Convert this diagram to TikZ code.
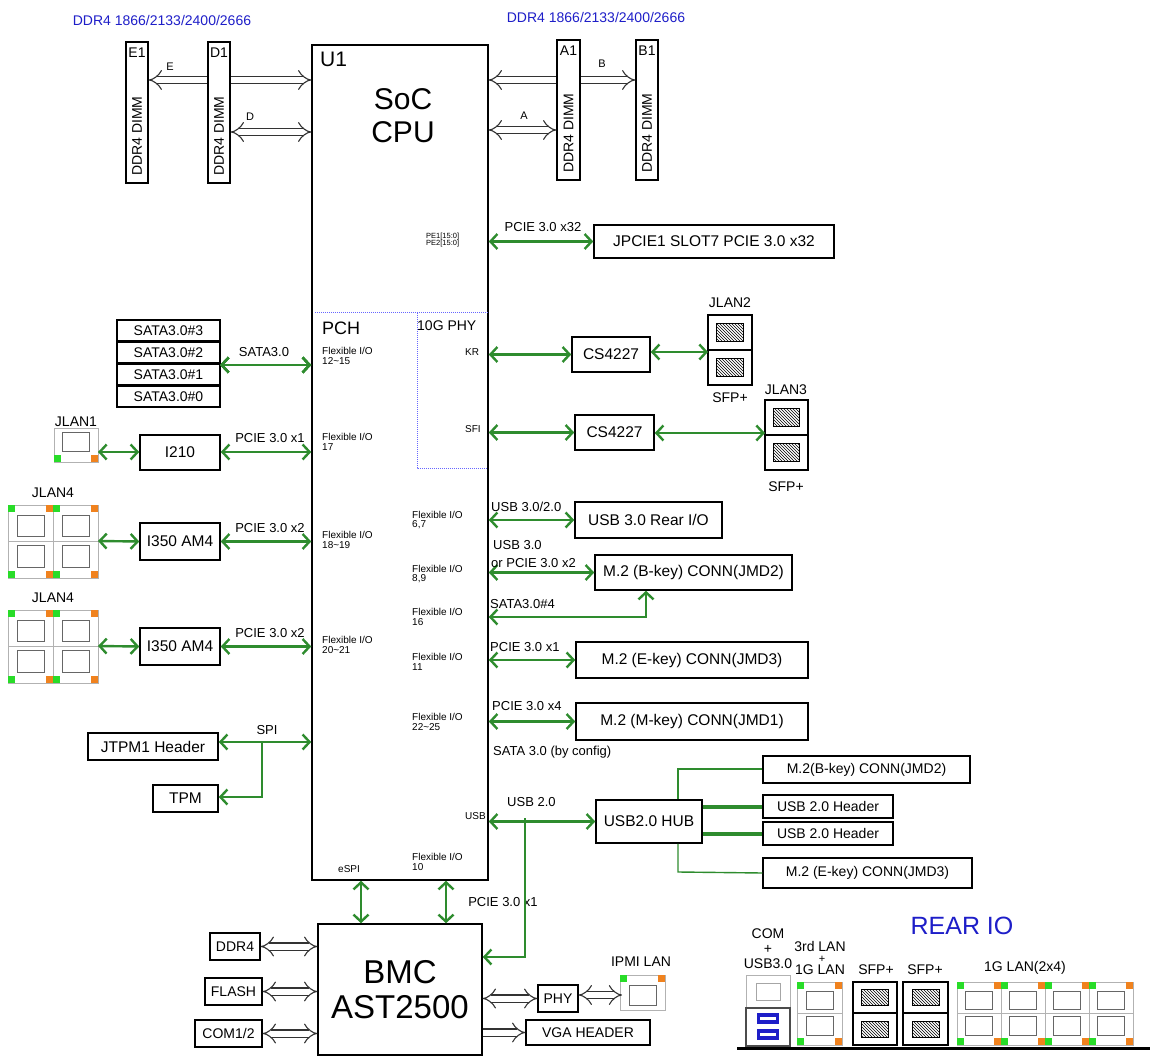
\documentclass[tikz,border=0pt]{standalone}
\usepackage{fontspec}
\setmainfont{Liberation Sans}
\usetikzlibrary{arrows.meta,patterns}
\definecolor{gr}{RGB}{46,140,46}
\definecolor{bl}{RGB}{30,30,200}
\definecolor{og}{RGB}{240,130,30}
\definecolor{lg}{RGB}{40,220,40}
\newcommand\bx[7][]{\node[box,#1,minimum width={((#4)-(#2))*1pt},minimum height={((#5)-(#3))*1pt}] (#6) at ({((#2)+(#4))/2},{((#3)+(#5))/2}) {#7};}
\newcommand\lport[5]{%
 \draw[gray!60,line width=1pt] ({#1},{#2}) rectangle ({#3},{#4});
 \ifx t#5
 \draw[gray!80!black,line width=0.8pt] ({(#1)+0.2*((#3)-(#1))},{(#2)+0.3*((#4)-(#2))}) rectangle ({(#3)-0.2*((#3)-(#1))},{(#4)-0.12*((#4)-(#2))});
 \fill[lg] ({#1},{#2}) rectangle ++(7,7); \fill[og] ({#3},{#2}) rectangle ++(-7,7);
 \else
 \draw[gray!80!black,line width=0.8pt] ({(#1)+0.2*((#3)-(#1))},{(#2)+0.12*((#4)-(#2))}) rectangle ({(#3)-0.2*((#3)-(#1))},{(#4)-0.3*((#4)-(#2))});
 \fill[lg] ({#1},{#4}) rectangle ++(7,-7); \fill[og] ({#3},{#4}) rectangle ++(-7,-7);
 \fi}
\newcommand\sfp[4]{\draw[line width=1.3pt] (#1,#2) rectangle (#3,#4);
 \draw[line width=1pt,pattern=north west lines] ({(#1)+0.2*((#3)-(#1))},{(#2)+0.25*((#4)-(#2))}) rectangle ({(#3)-0.2*((#3)-(#1))},{(#4)-0.25*((#4)-(#2))});}
\begin{document}
\begin{tikzpicture}[x=1pt,y=-1pt,
 box/.style={draw,line width=1.5pt,inner sep=0pt,font=\fontsize{15.5}{17}\selectfont},
 sb/.style={font=\fontsize{14}{16}\selectfont},
 lab/.style={font=\fontsize{13}{15}\selectfont,inner sep=0pt},
 tiny/.style={font=\fontsize{10}{9.5}\selectfont,align=left,inner sep=0pt,anchor=west},
 garr/.style={draw=gr,line width=2.4pt,{Straight Barb[length=7pt,width=15pt]}-{Straight Barb[length=7pt,width=15pt]}},
 gln/.style={draw=gr,line width=2.4pt},
 dbl/.style={draw=black!80,line width=1.1pt,double distance=6pt,{Implies}-{Implies}},
 dblr/.style={draw=black!80,line width=1.1pt,double distance=6pt,-{Implies}},
 dbll/.style={draw=black!80,line width=1.1pt,double distance=6pt,{Implies}-}]
\useasboundingbox (0,0) rectangle (1162,1059);
% CPU
\bx{312}{45}{488}{880}{U1}{}
\node[lab,font=\fontsize{21}{21}\selectfont,anchor=north west] at (320,52) {U1};
\node[lab,font=\fontsize{30}{33}\selectfont,align=center] at (403,116) {SoC\\CPU};
\draw[blue!60,densely dotted,line width=1pt] (315,313) -- (488,313) (417,313) -- (417,468) -- (488,468);
\node[lab,font=\fontsize{18}{18}\selectfont,anchor=west] at (322,328) {PCH};
\node[lab,font=\fontsize{14}{14}\selectfont,anchor=west] at (417,326) {10G PHY};
\node[tiny] at (465,352) {KR};
\node[tiny] at (465,429) {SFI};
\node[tiny,font=\fontsize{7.5}{7.5}\selectfont] at (426,240) {PE1[15:0]\\PE2[15:0]};
% DIMMs
\node[lab,text=bl,font=\fontsize{14}{14}\selectfont] at (162,20) {DDR4 1866/2133/2400/2666};
\node[lab,text=bl,font=\fontsize{14}{14}\selectfont] at (596,18) {DDR4 1866/2133/2400/2666};
\foreach \n/\xa/\xb/\ya/\yb in {E1/126/148/42/183,D1/208/230/42/183,A1/557/580/40/180,B1/636/658/40/180}{
 \bx{\xa}{\ya}{\xb}{\yb}{\n}{}
 \node[lab,font=\fontsize{14}{14}\selectfont,anchor=north] at ({(\xa+\xb)/2},{\ya+6}) {\n};
 \node[lab,font=\fontsize{14}{14}\selectfont,rotate=90,anchor=west] at ({(\xa+\xb)/2},{\yb-7}) {DDR4 DIMM};}
\draw[dbll] (E1.east |- 0,80) -- (D1.west |- 0,80);
\node[lab,font=\fontsize{11}{11}\selectfont] at (170,67) {E};
\draw[dblr] (D1.east |- 0,80) -- (U1.west |- 0,80);
\draw[dbl] (D1.east |- 0,132) -- (U1.west |- 0,132);
\node[lab,font=\fontsize{11}{11}\selectfont] at (250,117) {D};
\draw[dbll] (U1.east |- 0,80) -- (A1.west |- 0,80);
\draw[dbl] (U1.east |- 0,130) -- (A1.west |- 0,130);
\node[lab,font=\fontsize{11}{11}\selectfont] at (524,116) {A};
\draw[dblr] (A1.east |- 0,80) -- (B1.west |- 0,80);
\node[lab,font=\fontsize{11}{11}\selectfont] at (602,64) {B};
% PCIE slot
\bx{594}{225}{834}{258}{slot}{JPCIE1 SLOT7 PCIE 3.0 x32}
\draw[garr] (U1.east |- slot) -- (slot.west);
\node[lab] at (543,227) {PCIE 3.0 x32};
% CS4227 & SFP
\bx{572}{337}{650}{372}{cs1}{CS4227}
\bx{575}{415}{654}{450}{cs2}{CS4227}
\draw[garr] (U1.east |- cs1) -- (cs1.west);
\draw[garr] (U1.east |- cs2) -- (cs2.west);
\sfp{708}{315}{752}{350}\sfp{708}{350}{752}{385}
\coordinate (jl2) at (708,352);
\sfp{765}{400}{808}{435}\sfp{765}{435}{808}{470}
\coordinate (jl3) at (765,433);
\draw[garr] (cs1.east |- jl2) -- (jl2);
\draw[garr] (cs2.east |- jl3) -- (jl3);
\node[lab,font=\fontsize{14}{14}\selectfont] at (730,303) {JLAN2};
\node[lab,font=\fontsize{14}{14}\selectfont] at (730,398) {SFP+};
\node[lab,font=\fontsize{14}{14}\selectfont] at (786,390) {JLAN3};
\node[lab,font=\fontsize{14}{14}\selectfont] at (786,487) {SFP+};
% right side peripherals
\bx{575}{502}{722}{538}{usb3}{USB 3.0 Rear I/O}
\draw[garr] (U1.east |- usb3) -- (usb3.west);
\node[lab,anchor=west] at (491,507) {USB 3.0/2.0};
\bx{595}{555}{792}{590}{m2b}{M.2 (B-key) CONN(JMD2)}
\draw[garr] (U1.east |- m2b) -- (m2b.west);
\node[lab,anchor=west] at (493,545) {USB 3.0};
\node[lab,anchor=west] at (491,563) {or PCIE 3.0 x2};
\draw[garr] (U1.east |- 0,617) -- (646,617) -- (m2b.south -| 646,0);
\node[lab,anchor=west] at (490,604) {SATA3.0\#4};
\bx{576}{642}{808}{678}{m2e}{M.2 (E-key) CONN(JMD3)}
\draw[garr] (U1.east |- m2e) -- (m2e.west);
\node[lab,anchor=west] at (490,647) {PCIE 3.0 x1};
\bx{576}{703}{808}{740}{m2m}{M.2 (M-key) CONN(JMD1)}
\draw[garr] (U1.east |- m2m) -- (m2m.west);
\node[lab,anchor=west] at (492,706) {PCIE 3.0 x4};
\node[lab,anchor=west] at (493,752) {SATA 3.0 (by config)};
% flexible labels
\foreach \x/\y/\t in {322/356/12\textasciitilde15,322/442/17,322/540/18\textasciitilde19,322/645/20\textasciitilde21,412/520/{6,7},412/574/{8,9},412/617/16,412/662/11,412/722/22\textasciitilde25,412/862/10}
 \node[tiny] at (\x,\y) {Flexible I/O\\\t};
\node[tiny] at (465,816) {USB};
\node[tiny] at (338,869) {eSPI};
% USB hub
\bx{596}{800}{702}{843}{hub}{USB2.0 HUB}
\draw[garr] (U1.east |- hub) -- (hub.west);
\node[lab,anchor=west] at (507,802) {USB 2.0};
\bx[sb]{763}{756}{970}{783}{hb1}{M.2(B-key) CONN(JMD2)}
\bx[sb]{763}{795}{893}{818}{hb2}{USB 2.0 Header}
\bx[sb]{763}{822}{893}{845}{hb3}{USB 2.0 Header}
\bx[sb]{763}{858}{972}{888}{hb4}{M.2 (E-key) CONN(JMD3)}
\draw[gr,line width=1.4pt] (hub.north -| 678,0) -- (678,769) -- (hb1.west |- 0,769);
\draw[gr,line width=1.4pt] (hub.south -| 678,0) -- (678,872) -- (hb4.west);
\draw[gr,line width=4pt] (hub.east |- hb2) -- (hb2.west);
\draw[gr,line width=4pt] (hub.east |- hb3) -- (hb3.west);
% left side
\foreach \i/\t in {0/3,1/2,2/1,3/0}
 \bx[sb]{117}{320+\i*22}{220}{341+\i*22}{sata\t}{SATA3.0\#\t}
\draw[garr] (220,365) -- (U1.west |- 0,365);
\node[lab] at (264,352) {SATA3.0};
\lport{54}{428}{98}{462}{b}
\coordinate (jl1) at (98,452);
\bx{140}{435}{220}{470}{i210}{I210}
\draw[garr] (jl1) -- (i210.west |- jl1);
\draw[garr] (i210.east |- jl1) -- (U1.west |- jl1);
\node[lab,font=\fontsize{14}{14}\selectfont] at (76,422) {JLAN1};
\node[lab] at (270,438) {PCIE 3.0 x1};
\foreach \k/\ya in {a/505,b/610}{
 \lport{8}{\ya}{53}{\ya+36}{t}\lport{53}{\ya}{98}{\ya+36}{t}
 \lport{8}{\ya+36}{53}{\ya+73}{b}\lport{53}{\ya+36}{98}{\ya+73}{b}
 \node[lab,font=\fontsize{14}{14}\selectfont] at (53,\ya-12) {JLAN4};
 \bx{140}{\ya+18}{220}{\ya+55}{i350\k}{I350 AM4}
 \coordinate (jl4\k) at (98,\ya+36);
 \draw[garr] (jl4\k) -- (i350\k.west);
 \draw[garr] (i350\k.east) -- (U1.west |- i350\k);
 \node[lab] at (270,\ya+23) {PCIE 3.0 x2};}
\bx{88}{733}{218}{760}{tpmh}{JTPM1 Header}
\bx{153}{785}{218}{812}{tpm}{TPM}
\draw[garr] (tpmh.east |- 0,742) -- (U1.west |- 0,742);
\draw[gln,-{Straight Barb[length=7pt,width=15pt]}] (262,742) -- (262,797) -- (tpm.east |- 0,797);
\node[lab] at (267,730) {SPI};
% BMC
\bx{318}{924}{482}{1055}{bmc}{}
\node[lab,font=\fontsize{33}{35}\selectfont,align=center] at (400,990) {BMC\\AST2500};
\draw[garr] (U1.south -| 361,0) -- (bmc.north -| 361,0);
\draw[garr] (U1.south -| 446,0) -- (bmc.north -| 446,0);
\node[lab] at (503,902) {PCIE 3.0 x1};
\draw[gln,-{Straight Barb[length=7pt,width=15pt]}] (525,818) -- (525,957) -- (bmc.east |- 0,957);
\bx[sb]{210}{933}{260}{960}{ddr}{DDR4}
\bx[sb]{205}{978}{262}{1005}{flash}{FLASH}
\bx[sb]{195}{1020}{262}{1047}{com}{COM1/2}
\foreach \n in {ddr,flash,com} \draw[dbl] (\n.east) -- (bmc.west |- \n);
\bx[sb]{538}{985}{578}{1012}{phy}{PHY}
\bx[sb]{526}{1020}{650}{1045}{vga}{VGA HEADER}
\lport{620}{975}{665}{1010}{t}
\coordinate (ipmi) at (622,995);
\draw[dbl] (bmc.east |- phy) -- (phy.west);
\draw[dbl] (phy.east |- ipmi) -- (ipmi);
\draw[dblr] (bmc.east |- vga) -- (vga.west);
\node[lab,font=\fontsize{14}{14}\selectfont] at (641,962) {IPMI LAN};
% REAR IO
\node[lab,text=bl,font=\fontsize{25}{25}\selectfont] at (962,926) {REAR IO};
\node[lab,font=\fontsize{14}{15}\selectfont,align=center] at (768,949) {COM\\+\\USB3.0};
\node[lab,font=\fontsize{14}{14}\selectfont] at (820,946) {3rd LAN};
\node[lab,font=\fontsize{14}{14}\selectfont] at (820,970) {1G LAN};
\node[lab,font=\fontsize{11}{11}\selectfont] at (822,959) {+};
\node[lab,font=\fontsize{14}{14}\selectfont] at (876,970) {SFP+};
\node[lab,font=\fontsize{14}{14}\selectfont] at (925,970) {SFP+};
\node[lab,font=\fontsize{14}{14}\selectfont] at (1025,968) {1G LAN(2x4)};
\draw[gray!60,line width=1pt] (746,975) rectangle (790,1008);
\draw[gray!70,line width=1pt] (756,983) rectangle (780,1000);
\draw[black!70,line width=1.3pt] (746,1008) rectangle (790,1046);
\fill[bl] (757,1013) rectangle (779,1024); \fill[bl] (757,1029) rectangle (779,1040);
\fill[white] (760,1017) rectangle (776,1020); \fill[white] (760,1033) rectangle (776,1036);
\lport{797}{982}{842}{1013}{t}\lport{797}{1013}{842}{1045}{b}
\sfp{853}{982}{897}{1013}\sfp{853}{1013}{897}{1045}
\sfp{903}{982}{948}{1013}\sfp{903}{1013}{948}{1045}
\foreach \i in {0,1,2,3}{
 \lport{957+\i*44}{982}{1001+\i*44}{1013}{t}\lport{957+\i*44}{1013}{1001+\i*44}{1045}{b}}
\draw[line width=3pt] (737,1048) -- (1150,1048);
\end{tikzpicture}
\end{document}
